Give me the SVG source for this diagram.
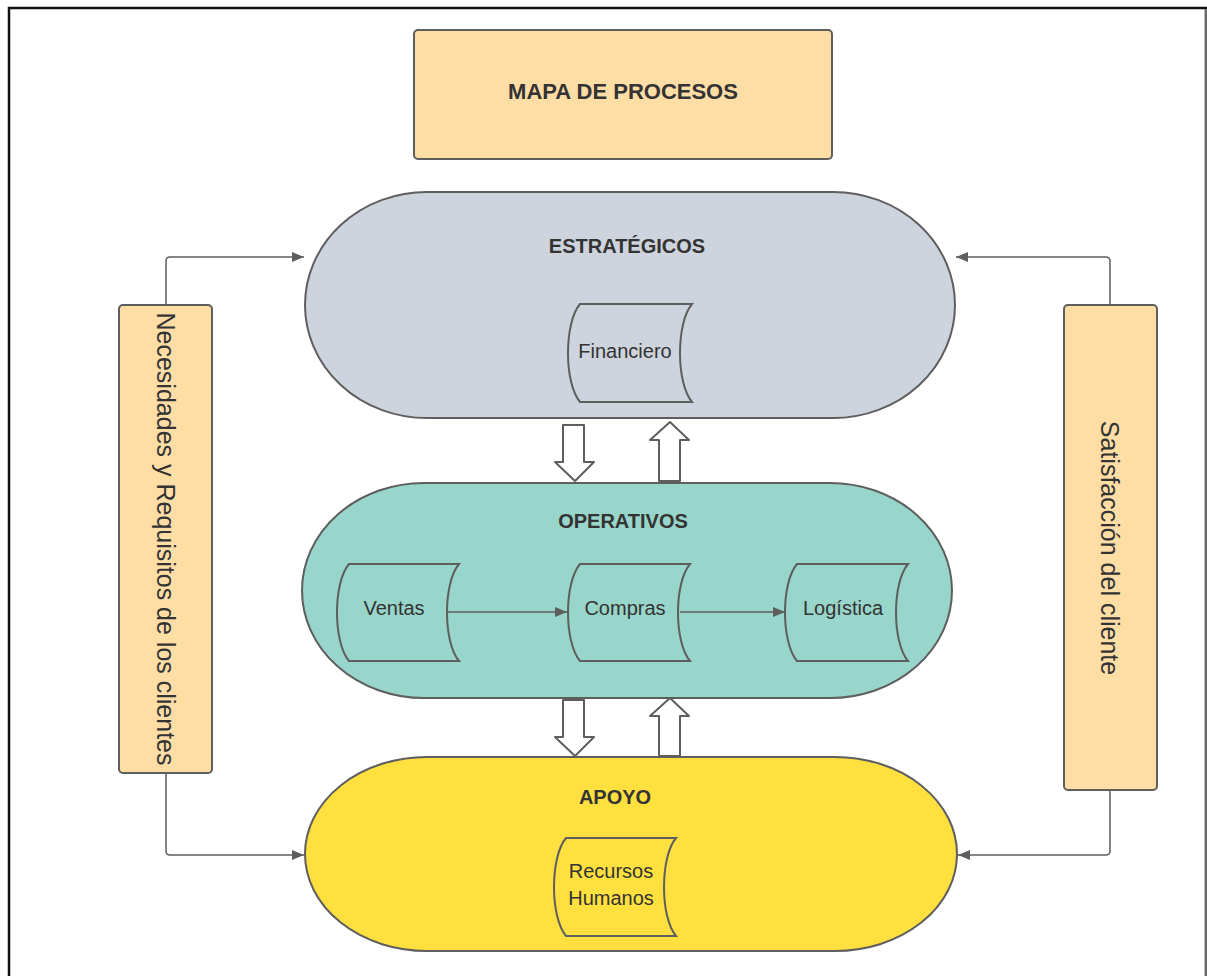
<svg xmlns="http://www.w3.org/2000/svg" width="1207" height="976" viewBox="0 0 1207 976">
  <style>
    text { font-family: "Liberation Sans", Arial, sans-serif; fill: #333333; }
    .title { font-size: 22px; font-weight: bold; }
    .head { font-size: 20px; font-weight: bold; }
    .lbl { font-size: 20px; }
    .side { font-size: 25px; }
    .box { fill: #FFDEA6; stroke: #5E5E5E; stroke-width: 2; }
    .shape { stroke: #5E5E5E; stroke-width: 2; }
    .doc { stroke: #5E5E5E; stroke-width: 2; }
    .conn { fill: none; stroke: #5E5E5E; stroke-width: 1.5; }
    .blk { fill: #FFFFFF; stroke: #5E5E5E; stroke-width: 2; stroke-linejoin: round; }
  </style>
  <defs>
    <marker id="arrow" viewBox="0 0 12 10" refX="12" refY="5" markerWidth="12" markerHeight="10" markerUnits="userSpaceOnUse" orient="auto">
      <path d="M0,0 L12,5 L0,10 Z" fill="#5E5E5E"/>
    </marker>
  </defs>

  <rect width="1207" height="976" fill="#FFFFFF"/>
  <!-- outer frame -->
  <path d="M9,976 V8 H1206 V976" fill="none" stroke="#111111" stroke-width="2.5"/>
  <line x1="1206" y1="9" x2="1206" y2="976" stroke="#888888" stroke-width="1.5"/>

  <g id="title">
    <rect class="box" x="414" y="30" width="418" height="129" rx="4"/>
    <text class="title" x="623" y="99" text-anchor="middle">MAPA DE PROCESOS</text>
  </g>

  <g id="estrategicos">
    <rect class="shape" x="305" y="192" width="650" height="226" rx="122" ry="113" fill="#CED4DE"/>
    <text class="head" x="627" y="253" text-anchor="middle">ESTRATÉGICOS</text>
  </g>
  <g id="financiero">
    <path class="doc" fill="#CED4DE" d="M580,304 H692 C676,323 676,383 692,402 H580 C564,383 564,323 580,304 Z"/>
    <text class="lbl" x="625" y="358" text-anchor="middle">Financiero</text>
  </g>

  <g id="operativos">
    <rect class="shape" x="302" y="483" width="650" height="215" rx="122" ry="107.5" fill="#98D5CA"/>
    <text class="head" x="623" y="528" text-anchor="middle">OPERATIVOS</text>
  </g>
  <g id="ventas">
    <path class="doc" fill="#98D5CA" d="M349,564 H459 C443,583 443,642 459,661 H349 C333,642 333,583 349,564 Z"/>
    <text class="lbl" x="394" y="615" text-anchor="middle">Ventas</text>
  </g>
  <g id="compras">
    <path class="doc" fill="#98D5CA" d="M580,564 H690 C674,583 674,642 690,661 H580 C564,642 564,583 580,564 Z"/>
    <text class="lbl" x="625" y="615" text-anchor="middle">Compras</text>
  </g>
  <g id="logistica">
    <path class="doc" fill="#98D5CA" d="M797,564 H908 C892,583 892,642 908,661 H797 C781,642 781,583 797,564 Z"/>
    <text class="lbl" x="843" y="615" text-anchor="middle">Logística</text>
  </g>

  <g id="apoyo">
    <rect class="shape" x="305" y="757" width="652" height="194" rx="122" ry="97" fill="#FFE03F"/>
    <text class="head" x="615" y="804" text-anchor="middle">APOYO</text>
  </g>
  <g id="recursos-humanos">
    <path class="doc" fill="#FFE03F" d="M566,838 H676 C660,857 660,917 676,936 H566 C550,917 550,857 566,838 Z"/>
    <text class="lbl" x="611" y="878" text-anchor="middle">Recursos</text>
    <text class="lbl" x="611" y="905" text-anchor="middle">Humanos</text>
  </g>

  <g id="necesidades">
    <rect class="box" x="119" y="305" width="93" height="468" rx="4"/>
    <text class="side" transform="translate(157,539) rotate(90)" text-anchor="middle">Necesidades y Requisitos de los clientes</text>
  </g>
  <g id="satisfaccion">
    <rect class="box" x="1064" y="305" width="93" height="485" rx="4"/>
    <text class="side" transform="translate(1101,548) rotate(90)" text-anchor="middle">Satisfacción del cliente</text>
  </g>

  <g id="connectors">
    <path class="conn" d="M166,305 V261 Q166,257 170,257 H304" marker-end="url(#arrow)"/>
    <path class="conn" d="M166,773 V851 Q166,855 170,855 H304" marker-end="url(#arrow)"/>
    <path class="conn" d="M1110,305 V261 Q1110,257 1106,257 H956" marker-end="url(#arrow)"/>
    <path class="conn" d="M1110,790 V851 Q1110,855 1106,855 H958" marker-end="url(#arrow)"/>
    <path class="conn" d="M448,612 H567" marker-end="url(#arrow)"/>
    <path class="conn" d="M680,612 H785" marker-end="url(#arrow)"/>
    <!-- block arrows between levels -->
    <path class="blk" d="M563,425 H584 V462 H594 L575,481 L555,462 H563 Z"/>
    <path class="blk" d="M659,481 V440 H650 L670,422 L689,440 H680 V481 Z"/>
    <path class="blk" d="M563,700 H584 V737 H594 L575,756 L555,737 H563 Z"/>
    <path class="blk" d="M659,756 V716 H650 L670,698 L689,716 H680 V756 Z"/>
  </g>
</svg>
